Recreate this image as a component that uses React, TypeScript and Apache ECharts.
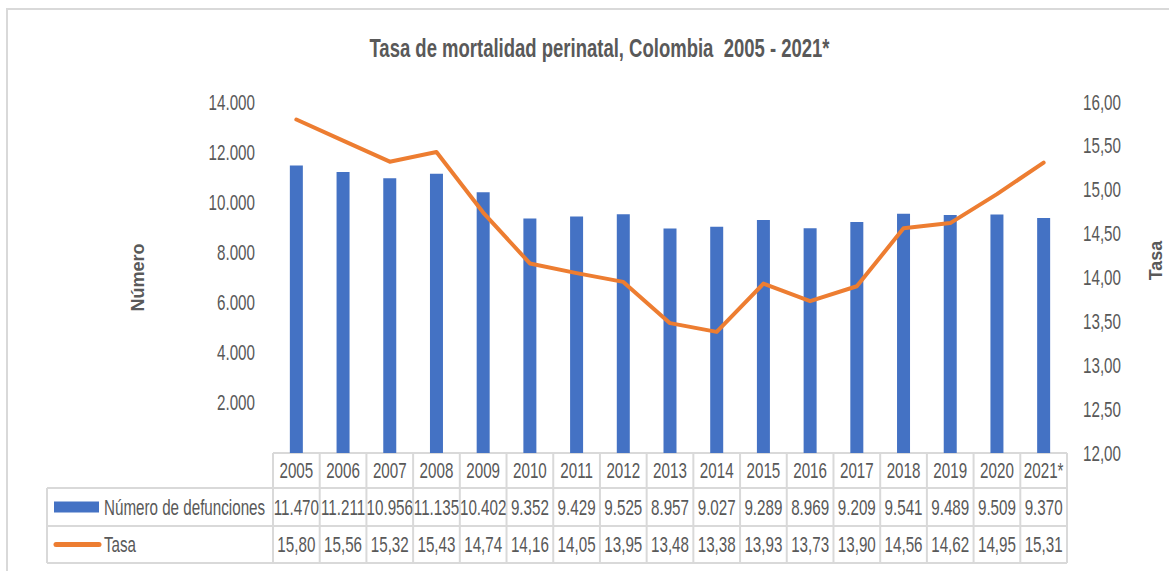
import React, { useEffect, useRef } from 'react';
import * as echarts from 'echarts';

const years = ['2005', '2006', '2007', '2008', '2009', '2010', '2011', '2012', '2013', '2014', '2015', '2016', '2017', '2018', '2019', '2020', '2021*'];
const defunciones = [11470, 11211, 10956, 11135, 10402, 9352, 9429, 9525, 8957, 9027, 9289, 8969, 9209, 9541, 9489, 9509, 9370];
const tasa = [15.80, 15.56, 15.32, 15.43, 14.74, 14.16, 14.05, 13.95, 13.48, 13.38, 13.93, 13.73, 13.90, 14.56, 14.62, 14.95, 15.31];
const seriesNames = ['Número de defunciones', 'Tasa'];
const leftTicks = [2000, 4000, 6000, 8000, 10000, 12000, 14000];
const rightTicks = [12, 12.5, 13, 13.5, 14, 14.5, 15, 15.5, 16];
const titleText = 'Tasa de mortalidad perinatal, Colombia  2005 - 2021*';

const FONT = "'Liberation Sans', Arial, sans-serif";
const GRAY = '#595959';
const LINE = '#d9d9d9';
const BLUE = '#4472C4';
const ORANGE = '#ED7D31';
const SX = 0.69; // horizontal compression of the reference's lettering

const fmtNum = (v: number) => {
  const s = Math.round(v).toString();
  return s.replace(/\B(?=(\d{3})+(?!\d))/g, '.');
};
const fmtRate = (v: number) => v.toFixed(2).replace('.', ',');

export default function App() {
  const ref = useRef<HTMLDivElement>(null);
  useEffect(() => {
    if (!ref.current) return;
    const chart = echarts.init(ref.current, undefined, { renderer: 'svg' });
    const gridLeft = 273;
    const gridRight = 1169 - 1067;
    const gridTop = 102;
    const gridBottom = 571 - 453;
    chart.setOption({
      animation: false,
      grid: { left: gridLeft, right: gridRight, top: gridTop, bottom: gridBottom, containLabel: false, outerBoundsMode: 'none' },
      xAxis: {
        type: 'category',
        data: years,
        axisLine: { show: false },
        axisTick: { show: false },
        axisLabel: { show: false },
        splitLine: { show: false },
      },
      yAxis: [
        {
          type: 'value',
          min: 0,
          max: 14000,
          interval: 2000,
          name: 'Número',
          nameLocation: 'middle',
          nameRotate: 90,
          nameGap: 126,
          nameTextStyle: { fontFamily: FONT, fontSize: 18, fontWeight: 'bold', color: GRAY },
          axisLine: { show: false },
          axisTick: { show: false },
          splitLine: { show: false },
          axisLabel: { show: false },
        },
        {
          type: 'value',
          min: 12,
          max: 16,
          interval: 0.5,
          position: 'right',
          name: 'Tasa',
          nameLocation: 'middle',
          nameRotate: 90,
          nameGap: 80,
          nameTextStyle: { fontFamily: FONT, fontSize: 18, fontWeight: 'bold', color: GRAY, padding: [0, 0, 0, 34] },
          axisLine: { show: false },
          axisTick: { show: false },
          splitLine: { show: false },
          axisLabel: { show: false },
        },
      ],
      series: [
        {
          name: seriesNames[0],
          type: 'bar',
          yAxisIndex: 0,
          data: defunciones,
          barWidth: 13,
          itemStyle: { color: BLUE },
        },
        {
          name: seriesNames[1],
          type: 'line',
          yAxisIndex: 1,
          data: tasa,
          symbol: 'none',
          z: 5,
          lineStyle: { color: ORANGE, width: 4, cap: 'round', join: 'round' },
        },
      ],
    });

    const centers = years.map((_, i) => chart.convertToPixel({ xAxisIndex: 0 }, i) as number);
    const band = centers.length > 1 ? centers[1] - centers[0] : 46;
    const x0 = centers[0] - band / 2;
    const x1 = centers[centers.length - 1] + band / 2;
    const legendLeft = 47;
    const yRow = [453, 488, 526, 563];
    const g: any[] = [];
    const lineStyle = { stroke: LINE, lineWidth: 2 };
    const textBase = { fontFamily: FONT, fontSize: 22, fill: GRAY, align: 'center', verticalAlign: 'middle' };

    // outer chart border
    g.push({ type: 'rect', shape: { x: 7, y: 9, width: 1300, height: 700 }, style: { fill: 'none', stroke: LINE, lineWidth: 2 } });
    // title
    g.push({
      type: 'text', x: 1169 / 2 + 15, y: 48, scaleX: 0.74,
      style: { ...textBase, text: titleText, fontSize: 25, fontWeight: 'bold' },
    });
    // tick labels via axis scales
    leftTicks.forEach((v) => {
      const y = chart.convertToPixel({ yAxisIndex: 0 }, v) as number;
      g.push({ type: 'text', x: 255, y, scaleX: SX, style: { ...textBase, align: 'right', text: fmtNum(v) } });
    });
    rightTicks.forEach((v) => {
      const y = chart.convertToPixel({ yAxisIndex: 1 }, v) as number;
      g.push({ type: 'text', x: 1083, y, scaleX: SX, style: { ...textBase, align: 'left', text: fmtRate(v) } });
    });
    // table horizontal lines
    g.push({ type: 'line', shape: { x1: x0, y1: yRow[0], x2: x1, y2: yRow[0] }, style: lineStyle });
    for (let r = 1; r < 4; r++) {
      g.push({ type: 'line', shape: { x1: legendLeft, y1: yRow[r], x2: x1, y2: yRow[r] }, style: lineStyle });
    }
    // table vertical lines
    g.push({ type: 'line', shape: { x1: legendLeft, y1: yRow[1], x2: legendLeft, y2: yRow[3] }, style: lineStyle });
    for (let i = 0; i <= years.length; i++) {
      const x = x0 + i * band;
      g.push({ type: 'line', shape: { x1: x, y1: yRow[0], x2: x, y2: yRow[3] }, style: lineStyle });
    }
    years.forEach((y, i) => {
      g.push({ type: 'text', x: centers[i], y: (yRow[0] + yRow[1]) / 2, scaleX: SX, style: { ...textBase, text: y } });
      g.push({ type: 'text', x: centers[i], y: (yRow[1] + yRow[2]) / 2, scaleX: SX, style: { ...textBase, text: fmtNum(defunciones[i]) } });
      g.push({ type: 'text', x: centers[i], y: (yRow[2] + yRow[3]) / 2, scaleX: SX, style: { ...textBase, text: fmtRate(tasa[i]) } });
    });
    // legend keys
    const r1 = (yRow[1] + yRow[2]) / 2;
    const r2 = (yRow[2] + yRow[3]) / 2;
    g.push({ type: 'rect', shape: { x: 54, y: r1 - 5.5, width: 45, height: 11 }, style: { fill: BLUE } });
    g.push({ type: 'line', shape: { x1: 56, y1: r2, x2: 99, y2: r2 }, style: { stroke: ORANGE, lineWidth: 5, lineCap: 'round' } });
    g.push({ type: 'text', x: 104, y: r1, scaleX: SX, style: { ...textBase, align: 'left', text: seriesNames[0] } });
    g.push({ type: 'text', x: 104, y: r2, scaleX: SX, style: { ...textBase, align: 'left', text: seriesNames[1] } });

    chart.setOption({ graphic: { elements: g } });

    return () => chart.dispose();
  }, []);
  return (
    <div style={{ position: 'absolute', left: 0, top: 0, width: 1169, height: 571, background: '#fff' }}>
      <div ref={ref} style={{ width: 1169, height: 571 }} />
    </div>
  );
}
